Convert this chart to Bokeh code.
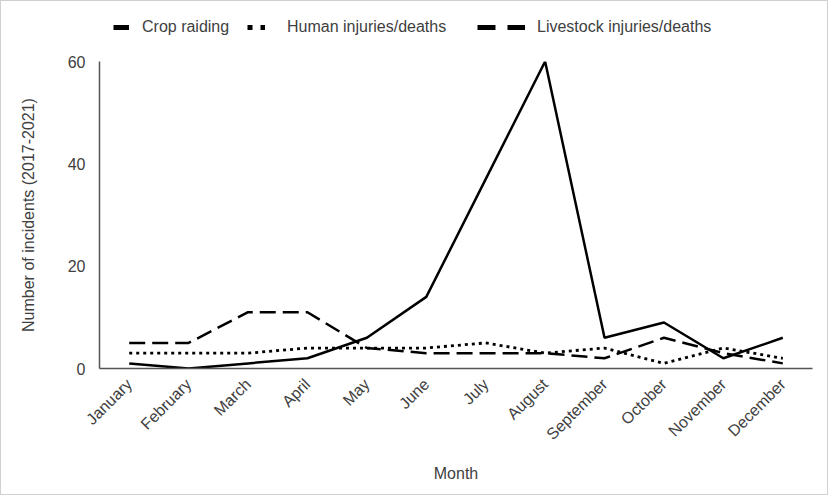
from bokeh.plotting import figure
from bokeh.layouts import column
from bokeh.models import FixedTicker, Legend, LegendItem, Range1d, FactorRange
from bokeh.embed import file_html
from bokeh.resources import INLINE

months = ["January", "February", "March", "April", "May", "June", "July",
          "August", "September", "October", "November", "December"]
crop_raiding = [1, 0, 1, 2, 6, 14, 37, 60, 6, 9, 2, 6]
human_injuries = [3, 3, 3, 4, 4, 4, 5, 3, 4, 1, 4, 2]
livestock_injuries = [5, 5, 11, 11, 4, 3, 3, 3, 2, 6, 3, 1]
series_names = ["Crop raiding", "Human injuries/deaths", "Livestock injuries/deaths"]
y_ticks = [0, 20, 40, 60]

FONT = "Liberation Sans"
TXT = "#404040"
FS = "16px"

# ---------- legend strip (frame aligned with the chart frame by the column) ----------
lg = figure(width=826, height=44, x_range=FactorRange(factors=months),
            y_range=Range1d(0, 60), output_backend="svg", toolbar_location=None,
            x_axis_type=None, y_axis_type=None,
            min_border_left=98, min_border_right=15, min_border_top=0,
            min_border_bottom=0)
lg.outline_line_color = None
lg.xgrid.visible = False
lg.ygrid.visible = False

lr1 = lg.line(months, crop_raiding, line_color="black", line_width=5,
              line_cap="butt", visible=False)
lr2 = lg.line(months, human_injuries, line_color="black", line_width=5,
              line_cap="butt", line_dash="5 8", visible=False)
lr3 = lg.line(months, livestock_injuries, line_color="black", line_width=5,
              line_cap="butt", line_dash="18 12", visible=False)

leg_specs = [(lr1, 14, 16, 13), (lr2, 148, 18, 22), (lr3, 378, 48, 12)]
for name, (rend, x0, gw, so) in zip(series_names, leg_specs):
    leg = Legend(items=[LegendItem(label=name, renderers=[rend])],
                 location=(x0, 8), orientation="horizontal",
                 glyph_width=gw, glyph_height=20, label_standoff=so,
                 label_text_font=FONT, label_text_font_size=FS,
                 label_text_color=TXT, border_line_color=None,
                 background_fill_alpha=0, padding=0, margin=0, spacing=0,
                 inactive_fill_alpha=0)
    lg.add_layout(leg, "center")

# ---------- main chart ----------
p = figure(width=826, height=449, x_range=FactorRange(factors=months),
           y_range=Range1d(0, 60), output_backend="svg", toolbar_location=None,
           min_border_left=98, min_border_right=15, min_border_top=16,
           min_border_bottom=126)
p.xgrid.visible = False
p.ygrid.visible = False
p.outline_line_color = None

p.line(months, crop_raiding, line_color="black", line_width=2.5)
p.line(months, human_injuries, line_color="black", line_width=2.8,
       line_dash="3 4")
p.line(months, livestock_injuries, line_color="black", line_width=2.5,
       line_dash="16 7")

for ax in (p.xaxis[0], p.yaxis[0]):
    ax.major_tick_line_color = None
    ax.minor_tick_line_color = None
    ax.axis_line_color = "#555555"
    ax.axis_line_width = 1.5
    ax.major_label_text_font = FONT
    ax.major_label_text_font_size = FS
    ax.major_label_text_color = TXT
    ax.axis_label_text_font = FONT
    ax.axis_label_text_font_size = FS
    ax.axis_label_text_font_style = "normal"
    ax.axis_label_text_color = TXT

p.yaxis.ticker = FixedTicker(ticks=y_ticks)
p.yaxis.major_label_standoff = 8
p.yaxis.axis_label = "Number of incidents (2017-2021)"
p.yaxis.axis_label_standoff = 28

p.xaxis.major_label_orientation = 0.7853981633974483
p.xaxis.major_label_standoff = 7
p.xaxis.axis_label = "Month"
p.xaxis.axis_label_standoff = 13

layout = column(lg, p, spacing=0, styles={"border": "1px solid #d0d0d0"})
open("out.html", "w").write(file_html(layout, INLINE))
